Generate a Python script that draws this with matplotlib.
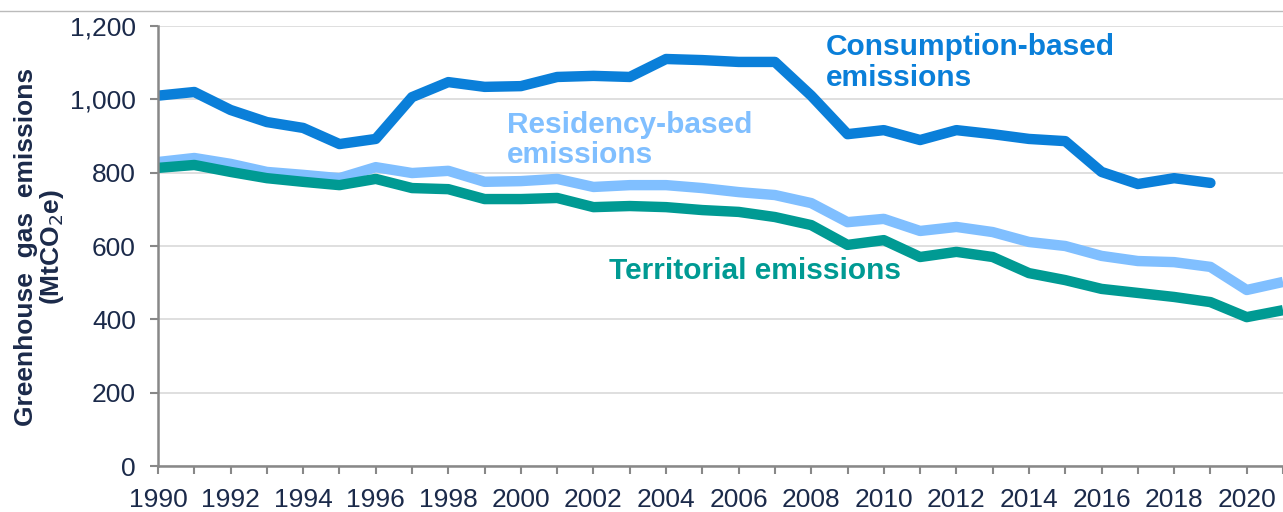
import matplotlib
matplotlib.use("Agg")
import matplotlib.pyplot as plt

plt.rcParams['font.family'] = ['Liberation Sans', 'DejaVu Sans']

years = list(range(1990, 2022))

# consumption-based series stops at 2019
consumption = [1010, 1020, 971, 938, 922, 878, 892, 1006, 1047, 1034,
               1036, 1061, 1064, 1061, 1110, 1107, 1102, 1102, 1010, 905,
               916, 889, 916, 905, 892, 886, 802, 769, 785, 772]
residency = [829, 840, 824, 802, 794, 785, 815, 799, 805, 775,
             777, 783, 761, 766, 766, 758, 747, 739, 717, 665,
             674, 641, 652, 638, 611, 600, 573, 559, 556, 543,
             480, 502]
territorial = [813, 821, 802, 785, 775, 766, 783, 758, 755, 728,
               728, 731, 706, 709, 706, 698, 693, 679, 657, 603,
               616, 570, 584, 570, 526, 507, 483, 472, 461, 447,
               406, 425]

navy = '#1b2a4a'
c_cons = '#0a7fd9'
c_res = '#80bfff'
c_terr = '#009a93'

fig = plt.figure(figsize=(12.83, 5.12), dpi=100)
ax = fig.add_axes([158/1283, 46/512, 1125/1283, 440/512])

ax.plot(years[:len(consumption)], consumption, color=c_cons, lw=7.5, solid_capstyle='round')
ax.plot(years, residency, color=c_res, lw=7.5, solid_capstyle='butt')
ax.plot(years, territorial, color=c_terr, lw=7.5, solid_capstyle='butt')

ax.set_xlim(1990, 1990 + 1125/36.4)
ax.set_ylim(0, 1200)
ax.set_yticks(range(0, 1201, 200))
ax.set_yticklabels(['{:,}'.format(v) for v in range(0, 1201, 200)])
ax.set_xticks(years)
ax.set_xticklabels([str(y) if y % 2 == 0 else '' for y in years])

ax.grid(axis='y', color='#d9d9d9', lw=1.2)
ax.set_axisbelow(True)
for s in ['top', 'right']:
    ax.spines[s].set_visible(False)
for s in ['left', 'bottom']:
    ax.spines[s].set_color('#888888')
    ax.spines[s].set_linewidth(1.8)
ax.tick_params(colors='#888888', labelcolor=navy, labelsize=19, length=6, width=1.5)
ax.tick_params(axis='x', pad=10)
ax.tick_params(axis='y', pad=10)

fig.text(40/1283, 1 - 247/512, 'Greenhouse  gas  emissions\n(MtCO$_2$e)', rotation=90,
         fontsize=19, fontweight='bold', color=navy, ha='center', va='center',
         multialignment='center', linespacing=1.0)

ax.text(2008.4, 1180, 'Consumption-based\nemissions', color=c_cons, fontsize=21.5,
        fontweight='bold', va='top', ha='left', linespacing=1.1)
ax.text(1999.62, 968, 'Residency-based\nemissions', color=c_res, fontsize=21.5,
        fontweight='bold', va='top', ha='left', linespacing=1.1)
ax.text(2002.42, 532, 'Territorial emissions', color=c_terr, fontsize=21.5,
        fontweight='bold', va='center', ha='left')

# thin rule along the top of the picture
fig.add_artist(plt.Line2D([0, 1], [1 - 11/512, 1 - 11/512], color='#bbbbbb', lw=1))

fig.savefig('out.png', dpi=100)
